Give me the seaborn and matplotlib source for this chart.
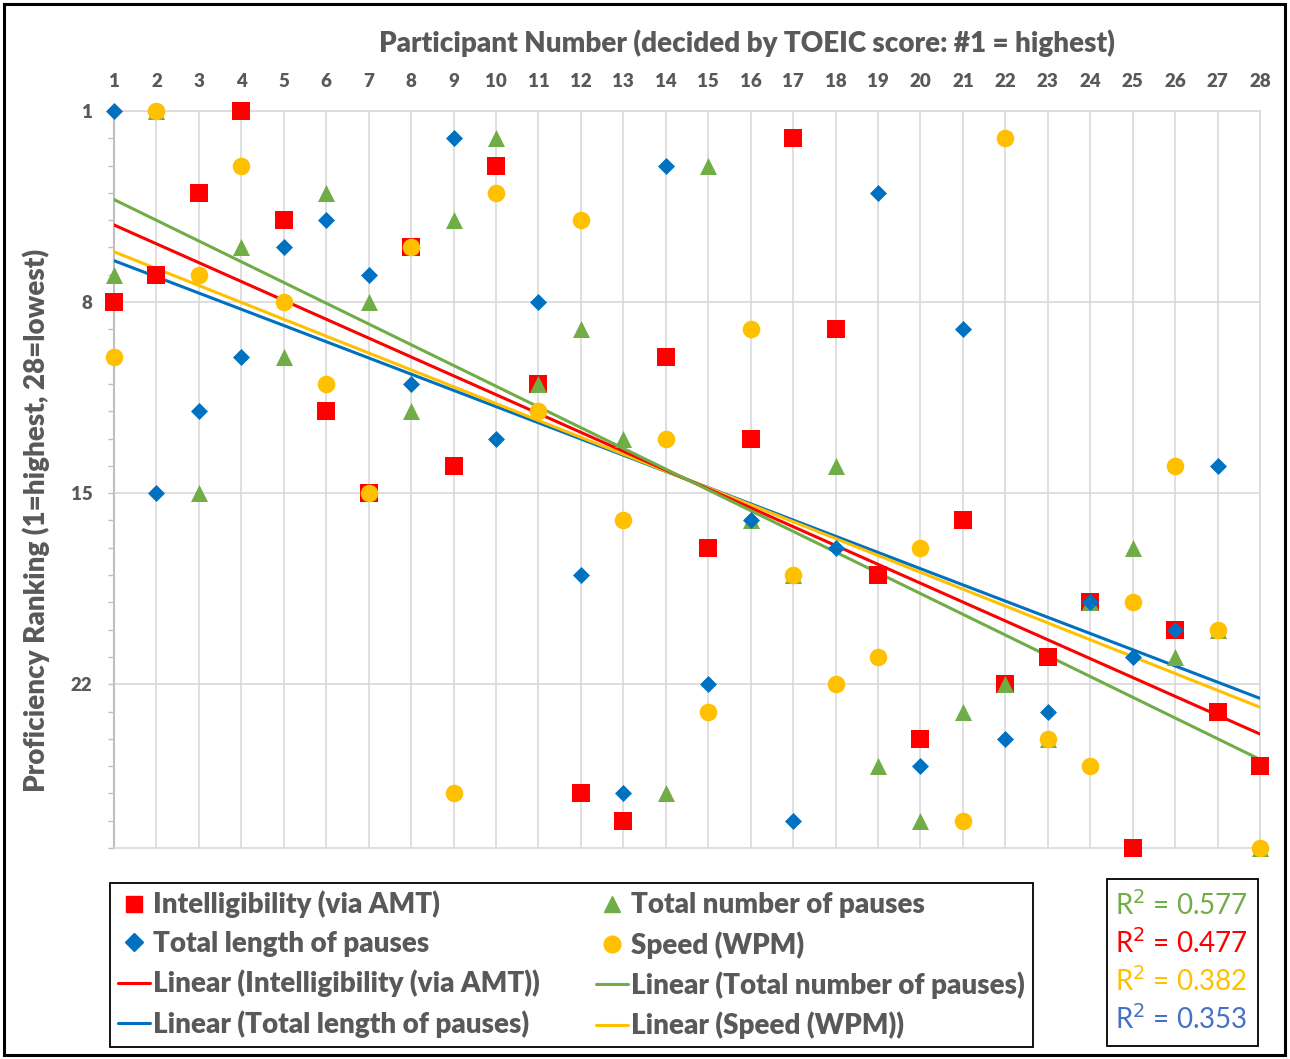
import numpy as np
import pandas as pd
import matplotlib
matplotlib.use("Agg")
import matplotlib.pyplot as plt
import seaborn as sns
from matplotlib.lines import Line2D
from matplotlib.patches import Rectangle

# ---------------- data ----------------
participants = list(range(1, 29))
intelligibility = [8, 7, 4, 1, 5, 12, 15, 6, 14, 3, 11, 26, 27, 10, 17, 13, 2, 9, 18, 24, 16, 22, 21, 19, 28, 20, 23, 25]
num_pauses = [7, 1, 15, 6, 10, 4, 8, 12, 5, 2, 11, 9, 13, 26, 3, 16, 18, 14, 25, 27, 23, 22, 24, 19, 17, 21, 20, 28]
len_pauses = [1, 15, 12, 10, 6, 5, 7, 11, 2, 13, 8, 18, 26, 3, 22, 16, 27, 17, 4, 25, 9, 24, 23, 19, 21, 20, 14, 28]
speed = [10, 1, 7, 3, 8, 11, 15, 6, 26, 4, 12, 5, 16, 13, 23, 9, 18, 22, 21, 17, 27, 2, 24, 25, 19, 14, 20, 28]
y_ticks = [1, 8, 15, 22]
series_names = ["Intelligibility (via AMT)", "Total number of pauses", "Total length of pauses", "Speed (WPM)"]

# ---------------- style ----------------
sns.set_style("white")
plt.rcParams["font.family"] = ["Lato", "DejaVu Sans"]
GREY = "#595959"
GRID = "#D9D9D9"
RED, GREEN, BLUE, YELLOW = "#FF0000", "#70AD47", "#0070C0", "#FFC000"
WEIGHT = "heavy"

W, H = 1290, 1059
fig = plt.figure(figsize=(W / 100, H / 100), dpi=100)
ax = fig.add_axes([114 / W, 1 - 848 / H, (1260 - 114) / W, (848 - 111) / H])

df = pd.DataFrame({"Participant": participants,
                   series_names[0]: intelligibility,
                   series_names[1]: num_pauses,
                   series_names[2]: len_pauses,
                   series_names[3]: speed})

specs = [  # name, color, marker, size
    (series_names[0], RED, "s", 150),
    (series_names[1], GREEN, "^", 150),
    (series_names[2], BLUE, "D", 75),
    (series_names[3], YELLOW, "o", 160),
]

# trend lines
line_order = [(series_names[2], BLUE), (series_names[3], YELLOW), (series_names[0], RED), (series_names[1], GREEN)]
for name, col in line_order:
    sns.regplot(data=df, x="Participant", y=name, ax=ax, scatter=False, ci=None,
                color=col, line_kws={"lw": 2.2, "zorder": 3})

# markers
for i, (name, col, mk, s) in enumerate(specs):
    sns.scatterplot(data=df, x="Participant", y=name, ax=ax, marker=mk, color=col,
                    s=s, linewidth=0, clip_on=False, zorder=4 + i, legend=False)

# axes formatting
ax.set_xlim(1, 28)
ax.set_ylim(28, 1)
ax.xaxis.tick_top()
ax.set_xticks(participants)
ax.set_yticks(y_ticks)
ax.set_yticks(range(1, 29), minor=True)
ax.tick_params(axis="x", length=0, pad=15, labelsize=13.5, labelcolor=GREY)
ax.tick_params(axis="y", which="both", direction="out", length=4.5, width=1,
               color="#BFBFBF", left=True, pad=11, labelsize=13.5, labelcolor=GREY)
ax.grid(True, axis="x", color=GRID, lw=1.2)
ax.grid(True, axis="y", which="major", color=GRID, lw=1.2)
ax.set_axisbelow(True)
for side in ["top", "right", "bottom"]:
    ax.spines[side].set_color(GRID)
    ax.spines[side].set_linewidth(1.2)
ax.spines["left"].set_color("#BFBFBF")
ax.spines["left"].set_linewidth(1.5)
for lab in ax.get_xticklabels() + ax.get_yticklabels():
    lab.set_fontweight(WEIGHT)

ax.set_xlabel("Participant Number (decided by TOEIC score: #1 = highest)",
              fontsize=20, fontweight=WEIGHT, color=GREY)
ax.xaxis.set_label_position("top")
ax.xaxis.set_label_coords((747 - 114) / 1146, (848 - 52) / 737)
ax.set_ylabel("Proficiency Ranking (1=highest, 28=lowest)",
              fontsize=20, fontweight=WEIGHT, color=GREY)
ax.yaxis.set_label_coords((50 - 114) / 1146, (848 - 520) / 737)

# legend
mk_handles = {
    series_names[0]: Line2D([], [], ls="none", marker="s", ms=12, color=RED),
    series_names[1]: Line2D([], [], ls="none", marker="^", ms=12, color=GREEN),
    series_names[2]: Line2D([], [], ls="none", marker="D", ms=9, color=BLUE),
    series_names[3]: Line2D([], [], ls="none", marker="o", ms=12, color=YELLOW),
}
ln_handles = {
    series_names[0]: Line2D([], [], color=RED, lw=2.2),
    series_names[1]: Line2D([], [], color=GREEN, lw=2.2),
    series_names[2]: Line2D([], [], color=BLUE, lw=2.2),
    series_names[3]: Line2D([], [], color=YELLOW, lw=2.2),
}
order_col1 = [series_names[0], series_names[2]]
order_col2 = [series_names[1], series_names[3]]
handles = ([mk_handles[n] for n in order_col1] + [ln_handles[n] for n in order_col1] +
           [mk_handles[n] for n in order_col2] + [ln_handles[n] for n in order_col2])
labels = ([n for n in order_col1] + [f"Linear ({n})" for n in order_col1] +
          [n for n in order_col2] + [f"Linear ({n})" for n in order_col2])
leg = fig.legend(handles, labels, ncol=2, loc="upper left",
                 bbox_to_anchor=(110 / W, 1 - 883 / H, (1033 - 110) / W, 0.0001),
                 mode="expand", frameon=True, fancybox=False, edgecolor="black",
                 framealpha=1, handlelength=1.15, handletextpad=0.12,
                 borderpad=0.28, labelspacing=0.46, borderaxespad=0,
                 prop={"size": 20, "weight": WEIGHT})
leg.get_frame().set_linewidth(1.3)
for t in leg.get_texts():
    t.set_color(GREY)

# R^2 box
fig.add_artist(Rectangle((1107 / W, 1 - 1046 / H), (1258 - 1107) / W, (1046 - 879) / H,
                         transform=fig.transFigure, fill=False, ec="black", lw=1.3))
r2_specs = [(num_pauses, "#70AD47"), (intelligibility, "#FF0000"),
            (speed, "#FFC000"), (len_pauses, "#4472C4")]
for k, (vals, tcol) in enumerate(r2_specs):
    r2 = np.corrcoef(participants, vals)[0, 1] ** 2
    fig.text(1181 / W, 1 - (905 + 38 * k) / H, f"R$^2$ = {r2:.3f}", color=tcol,
             fontsize=20, ha="center", va="center")

# outer border
fig.add_artist(Rectangle((4 / W, 4 / H), (1285 - 4) / W, (1055 - 4) / H,
                         transform=fig.transFigure, fill=False, ec="black", lw=2.2))

fig.savefig("out.png", dpi=100)
